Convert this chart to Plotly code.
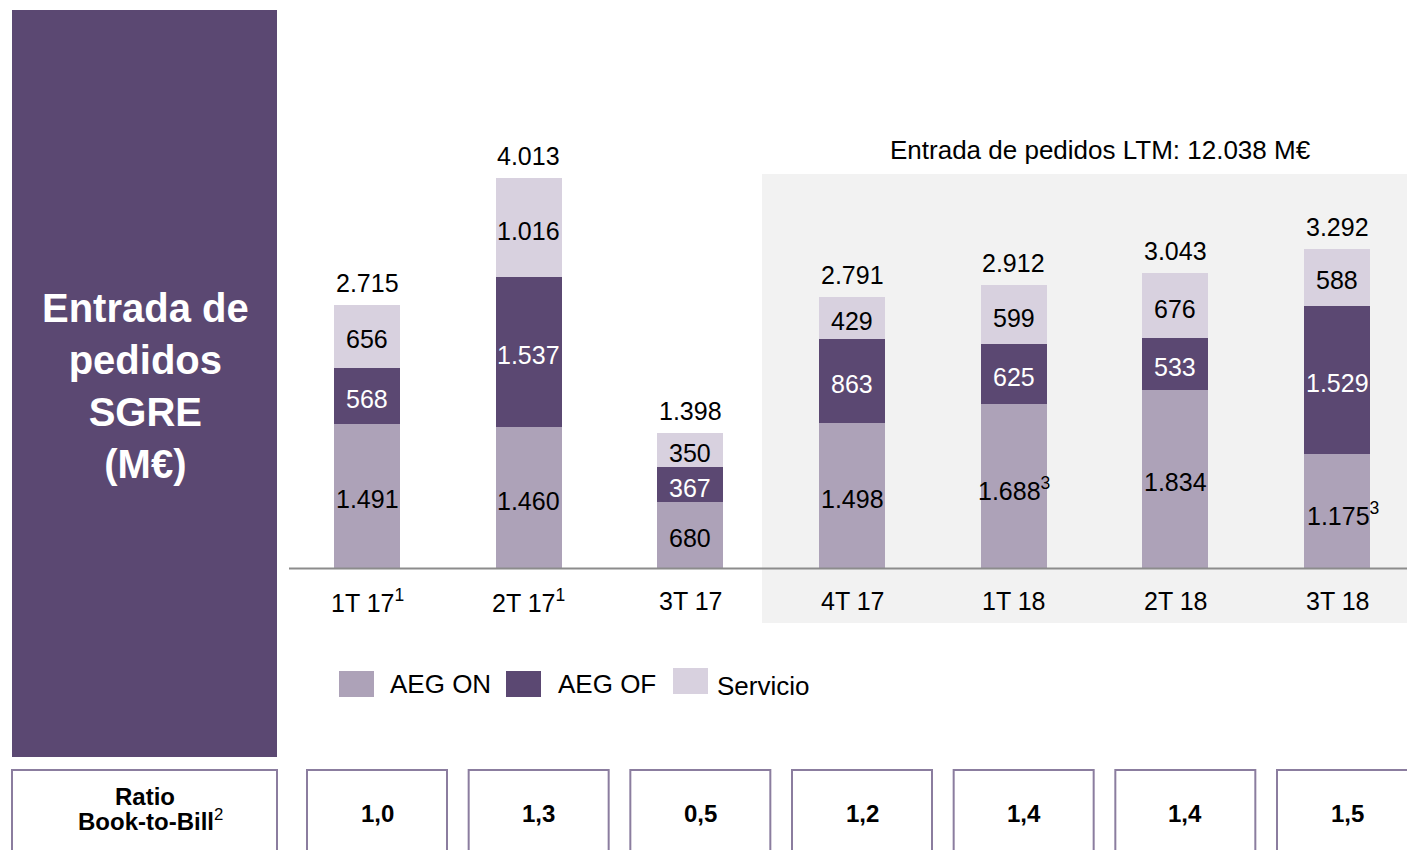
import plotly.graph_objects as go

# ---------------- data ----------------
categories = ["1T 17", "2T 17", "3T 17", "4T 17", "1T 18", "2T 18", "3T 18"]
category_notes = ["1", "1", "", "", "", "", ""]
aeg_on = [1491, 1460, 680, 1498, 1688, 1834, 1175]
aeg_on_notes = ["", "", "", "", "3", "", "3"]
aeg_of = [568, 1537, 367, 863, 625, 533, 1529]
servicio = [656, 1016, 350, 429, 599, 676, 588]
totals = [2715, 4013, 1398, 2791, 2912, 3043, 3292]
book_to_bill = ["1,0", "1,3", "0,5", "1,2", "1,4", "1,4", "1,5"]
series_names = ["AEG ON", "AEG OF", "Servicio"]

# ---------------- style ----------------
W, H = 1407, 850
FONT = "Liberation Sans, Arial, sans-serif"
C_ON = "#ADA2B8"
C_OF = "#5B4872"
C_SERV = "#D8D1DF"
C_PANEL = "#5B4872"
C_BOX = "#8B7D9F"
C_GRAY = "#F2F2F2"
FS = 25  # main text size

def fmt(v):
    return f"{v:,}".replace(",", ".")

def px_x(p):
    return p / W

def px_y(p):
    return 1 - p / H

x_pos = list(range(len(categories)))
# axis calibration (pixel centre of first / last category, baseline, px per unit)
x0_px, x6_px = 367, 1337
ux = (x6_px - x0_px) / (len(categories) - 1)
base_px = 568.5
uy = 0.0972  # px per M€
x_range = [-x0_px / ux, (W - x0_px) / ux]
y_range = [-(H - base_px) / uy, base_px / uy]
bar_w = 66 / ux

fig = go.Figure()
for name, vals, col in zip(series_names, [aeg_on, aeg_of, servicio], [C_ON, C_OF, C_SERV]):
    fig.add_trace(go.Bar(
        x=x_pos, y=vals, name=name, width=bar_w,
        marker=dict(color=col, line=dict(width=0)),
        showlegend=False, hoverinfo="skip",
    ))

annotations = []
shapes = []

def ann(**kw):
    kw.setdefault("showarrow", False)
    kw.setdefault("xanchor", "center")
    kw.setdefault("yanchor", "middle")
    annotations.append(kw)

# grey LTM background
shapes.append(dict(type="rect", xref="paper", yref="paper",
                   x0=px_x(762), x1=1.0, y0=px_y(623), y1=px_y(174),
                   fillcolor=C_GRAY, line=dict(width=0), layer="below"))
# baseline
shapes.append(dict(type="line", xref="paper", yref="y",
                   x0=px_x(289), x1=1.0, y0=0, y1=0,
                   line=dict(color="#8C8C8C", width=2)))

# segment labels
for i in x_pos:
    b0 = 0
    segs = [(aeg_on[i], "black", aeg_on_notes[i]),
            (aeg_of[i], "white", ""),
            (servicio[i], "black", "")]
    for v, col, note in segs:
        txt = fmt(v) + (f"<sup>{note}</sup>" if note else "")
        ann(x=i, y=b0 + v / 2, xref="x", yref="y", text=txt, yshift=-3,
            xshift=(6 if note and i == len(x_pos) - 1 else 0),
            font=dict(family=FONT, size=FS, color=col))
        b0 += v
    ann(x=i, y=totals[i], xref="x", yref="y", text=fmt(totals[i]), yshift=22,
        font=dict(family=FONT, size=FS, color="black"))
    # category label
    lab = categories[i] + (f"<sup>{category_notes[i]}</sup>" if category_notes[i] else "")
    ann(x=i, y=px_y(601), xref="x", yref="paper", text=lab,
        font=dict(family=FONT, size=FS, color="black"))

# LTM header
ltm_total = sum(totals[3:])
ann(x=px_x(1100), y=px_y(150), xref="paper", yref="paper",
    text=f"Entrada de pedidos LTM: {fmt(ltm_total)} M€",
    font=dict(family=FONT, size=26, color="black"))

# left purple panel
shapes.append(dict(type="rect", xref="paper", yref="paper",
                   x0=px_x(12), x1=px_x(277), y0=px_y(757), y1=px_y(10),
                   fillcolor=C_PANEL, line=dict(width=0)))
ann(x=px_x(145), y=px_y(386), xref="paper", yref="paper",
    text="<b>Entrada de<br>pedidos<br>SGRE<br>(M€)</b>", align="center",
    font=dict(family=FONT, size=40, color="white"))

# legend (custom)
leg_sq = [(339, 671), (506, 671), (673, 668)]
leg_tx = [(388, 684), (556, 684), (715, 686)]
for (sx, sy), (tx, ty), name, col in zip(leg_sq, leg_tx, series_names, [C_ON, C_OF, C_SERV]):
    shapes.append(dict(type="rect", xref="paper", yref="paper",
                       x0=px_x(sx), x1=px_x(sx + 35), y0=px_y(sy + 26), y1=px_y(sy),
                       fillcolor=col, line=dict(width=0)))
    ann(x=px_x(tx), y=px_y(ty), xref="paper", yref="paper", text=name,
        xanchor="left", font=dict(family=FONT, size=26, color="black"))

# book-to-bill boxes
shapes.append(dict(type="rect", xref="paper", yref="paper",
                   x0=px_x(12), x1=px_x(277), y0=-0.05, y1=px_y(770),
                   line=dict(color=C_BOX, width=2), fillcolor="rgba(0,0,0,0)"))
ann(x=px_x(145), y=px_y(796), xref="paper", yref="paper",
    text="<b>Ratio</b>", font=dict(family=FONT, size=24, color="black"))
ann(x=px_x(150), y=px_y(820), xref="paper", yref="paper",
    text="<b>Book-to-Bill</b><sup>2</sup>", font=dict(family=FONT, size=24, color="black"))
box_off = 10 / ux
box_half = 70 / ux
for i in x_pos:
    shapes.append(dict(type="rect", xref="x", yref="paper",
                       x0=i + box_off - box_half, x1=i + box_off + box_half,
                       y0=-0.05, y1=px_y(770),
                       line=dict(color=C_BOX, width=2), fillcolor="rgba(0,0,0,0)"))
    ann(x=i + box_off, y=px_y(813), xref="x", yref="paper",
        text=f"<b>{book_to_bill[i]}</b>",
        font=dict(family=FONT, size=24, color="black"))

fig.update_layout(
    width=W, height=H, margin=dict(l=0, r=0, t=0, b=0),
    barmode="stack", bargap=0,
    paper_bgcolor="white", plot_bgcolor="white",
    xaxis=dict(range=x_range, visible=False, fixedrange=True),
    yaxis=dict(range=y_range, visible=False, fixedrange=True),
    shapes=shapes, annotations=annotations,
    font=dict(family=FONT),
)

fig.write_html(
    "out.html",
    config={"displayModeBar": False},
    post_script="document.body.style.margin='0px';document.body.style.overflow='hidden';",
)
